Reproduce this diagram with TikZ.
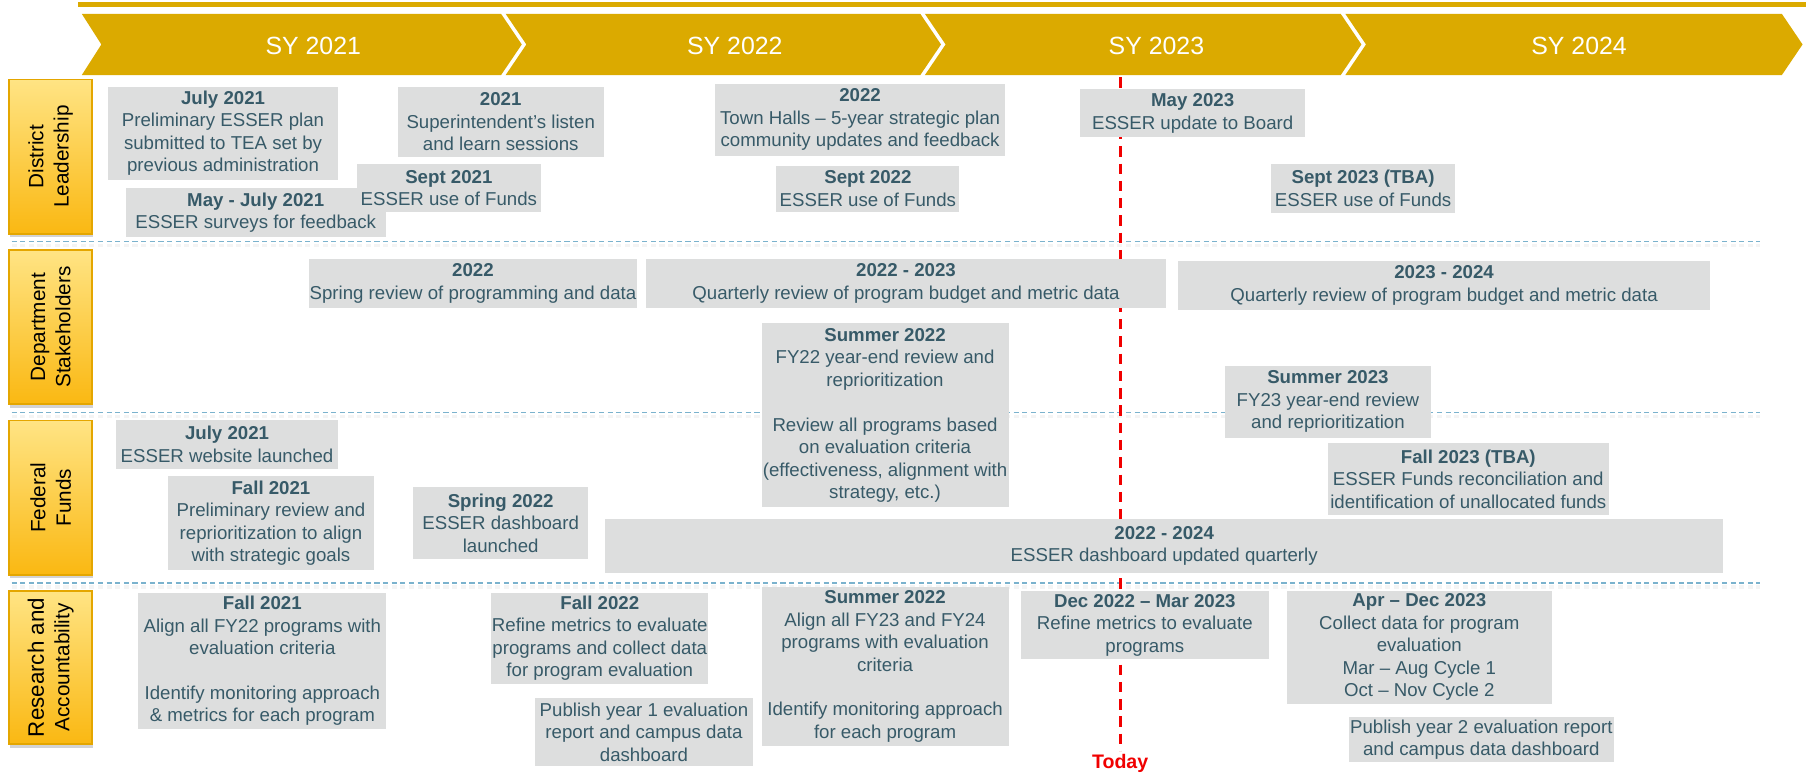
\documentclass[tikz,border=0pt]{standalone}
\usepackage{fontspec}
\setmainfont{Liberation Sans}
\usetikzlibrary{shadows}
\definecolor{gold}{RGB}{219,170,0}
\definecolor{boxgray}{RGB}{221,222,222}
\definecolor{txt}{RGB}{55,90,104}
\definecolor{sepblue}{RGB}{122,178,205}
\definecolor{sidetop}{RGB}{255,228,132}
\definecolor{sidebot}{RGB}{250,184,18}
\definecolor{sideedge}{RGB}{228,166,0}
\definecolor{todayred}{RGB}{240,0,0}
\newcommand\evbox[6]{%
  \node[evt, minimum width={#4-#2}, minimum height={#5-#3}] (#1) at ({(#2+#4)/2},{(#3+#5)/2}) {#6};}
\newcommand\sidebox[6]{%
  \node[sidebx, minimum width={#4-#2}, minimum height={#5-#3}] (#1) at ({(#2+#4)/2},{(#3+#5)/2}) {};
  \node[sidetxt] (#1t) at (#1.center) {#6};}
\begin{document}
\begin{tikzpicture}[x=1pt,y=-1pt,
  evt/.style={fill=boxgray, inner sep=0pt, align=center, text=txt,
    font=\fontsize{16.2}{19.5}\selectfont},
  sidebx/.style={draw=sideedge, line width=1.5pt, top color=sidetop, bottom color=sidebot,
    inner sep=0pt, drop shadow={opacity=0.35, shadow xshift=1pt, shadow yshift=-3pt}},
  sidetxt/.style={rotate=90, align=center, text=black, inner sep=0pt,
    font=\fontsize{18}{22}\selectfont},
  chev/.style={fill=gold},
  sylabel/.style={text=white, font=\fontsize{21.6}{24}\selectfont, inner sep=0pt},
  sep/.style={draw=sepblue, line width=1.3pt, dash pattern=on 4.5pt off 3pt},
  sepshadow/.style={draw=gray!9, line width=3pt, dash pattern=on 4.5pt off 3pt},
  todayline/.style={draw=todayred, line width=2.5pt, dash pattern=on 9pt off 6pt}]
\useasboundingbox (0,0) rectangle (1568,671);

% top bar and chevrons
\fill[gold] (68,2) rectangle (1568,6.5);
\fill[chev] (71,12) -- (435,12) -- (453,38.6) -- (435,65.2) -- (71,65.2) -- (88,38.6) -- cycle;
\fill[chev] (439,12) -- (799,12) -- (817,38.6) -- (799,65.2) -- (439,65.2) -- (457,38.6) -- cycle;
\fill[chev] (803,12) -- (1164,12) -- (1182,38.6) -- (1164,65.2) -- (803,65.2) -- (821,38.6) -- cycle;
\fill[chev] (1168,12) -- (1547,12) -- (1565,38.6) -- (1547,65.2) -- (1168,65.2) -- (1186,38.6) -- cycle;
\node[sylabel] (sy1) at (272,40) {SY 2021};
\node[sylabel] (sy2) at (638,40) {SY 2022};
\node[sylabel] (sy3) at (1004,40) {SY 2023};
\node[sylabel] (sy4) at (1371,40) {SY 2024};

% separators
\foreach \yy/\nm in {209.5/a,358/b,506/c}{
  \coordinate (sepL\nm) at (10,\yy);
  \coordinate (sepR\nm) at (1528,\yy);
  \draw[sepshadow] ([yshift=-3.5pt]sepL\nm) -- ([yshift=-3.5pt]sepR\nm);
  \draw[sep] (sepL\nm) -- (sepR\nm);
}

% today line
\coordinate (ttop) at (972.5,67);
\coordinate (tbot) at (972.5,652);
\draw[todayline] (ttop) -- (tbot);
\node[text=todayred, font=\bfseries\fontsize{17}{20}\selectfont, inner sep=0pt] (today) at (972.5,662.5) {Today};

% side labels
\sidebox{s1}{8}{69}{80}{203}{District\\Leadership}
\sidebox{s2}{8}{217}{80}{351}{Department\\Stakeholders}
\sidebox{s3}{8}{365}{80}{499}{Federal\\Funds}
\sidebox{s4}{8}{513}{80}{646}{\fontsize{19.4}{23}\selectfont Research and\\Accountability}

% row 1: District Leadership
\evbox{b1}{94}{75.2}{293.3}{156.3}{\textbf{July 2021}\\Preliminary ESSER plan\\submitted to TEA set by\\previous administration}
\evbox{b2}{345.5}{75.2}{524}{136.6}{\textbf{2021}\\Superintendent’s listen\\and learn sessions}
\evbox{b3}{109}{163.5}{335}{205.5}{\textbf{May - July 2021}\\ESSER surveys for feedback}
\evbox{b4}{310}{142.7}{469.4}{184.3}{\textbf{Sept 2021}\\ESSER use of Funds}
\evbox{b5}{621}{72.9}{872.5}{135.2}{\textbf{2022}\\Town Halls – 5-year strategic plan\\community updates and feedback}
\evbox{b6}{674}{144}{833}{183.8}{\textbf{Sept 2022}\\ESSER use of Funds}
\evbox{b7}{937.6}{77.6}{1133.4}{119.2}{\textbf{May 2023}\\ESSER update to Board}
\evbox{b8}{1103.6}{142.4}{1263.3}{184.6}{\textbf{Sept 2023 (TBA)}\\ESSER use of Funds}

% row 2: Department Stakeholders
\evbox{c1}{268.2}{225.2}{553.1}{267.1}{\textbf{2022}\\Spring review of programming and data}
\evbox{c2}{560.8}{225.2}{1012.4}{267.1}{\textbf{2022 - 2023}\\Quarterly review of program budget and metric data}
\evbox{c3}{1023.1}{226.6}{1484.4}{268.9}{\textbf{2023 - 2024}\\Quarterly review of program budget and metric data}
\evbox{c4}{661.2}{280.7}{875.6}{440.5}{\textbf{Summer 2022}\\FY22 year-end review and\\reprioritization\\[19.5pt]Review all programs based\\on evaluation criteria\\(effectiveness, alignment with\\strategy, etc.)}
\evbox{c5}{1063.4}{317.8}{1242.5}{380}{\textbf{Summer 2023}\\FY23 year-end review\\and reprioritization}

% row 3: Federal Funds
\evbox{d1}{100.8}{364.7}{293.4}{407.2}{\textbf{July 2021}\\ESSER website launched}
\evbox{d2}{145.7}{413.3}{324.8}{494.9}{\textbf{Fall 2021}\\Preliminary review and\\reprioritization to align\\with strategic goals}
\evbox{d3}{358.5}{423.1}{510.9}{485.3}{\textbf{Spring 2022}\\ESSER dashboard\\launched}
\evbox{d4}{525.5}{450.9}{1496}{497.2}{\textbf{2022 - 2024}\\ESSER dashboard updated quarterly}
\evbox{d5}{1152.8}{384.9}{1396.8}{447.1}{\textbf{Fall 2023 (TBA)}\\ESSER Funds reconciliation and\\identification of unallocated funds}

% row 4: Research and Accountability
\evbox{e1}{120.2}{514.6}{335.3}{633}{\textbf{Fall 2021}\\Align all FY22 programs with\\evaluation criteria\\[19.5pt]Identify monitoring approach\\\& metrics for each program}
\evbox{e2}{426.4}{514.6}{615.1}{593.9}{\textbf{Fall 2022}\\Refine metrics to evaluate\\programs and collect data\\for program evaluation}
\evbox{e3}{464.3}{606.3}{653.9}{665}{Publish year 1 evaluation\\report and campus data\\dashboard}
\evbox{e4}{661.2}{509.9}{875.6}{647.4}{\textbf{Summer 2022}\\Align all FY23 and FY24\\programs with evaluation\\criteria\\[19.5pt]Identify monitoring approach\\for each program}
\evbox{e5}{886.4}{513.1}{1101.5}{572.2}{\textbf{Dec 2022 – Mar 2023}\\Refine metrics to evaluate\\programs}
\evbox{e6}{1117.3}{512.8}{1347.2}{611.2}{\textbf{Apr – Dec 2023}\\Collect data for program\\evaluation\\Mar – Aug Cycle 1\\Oct – Nov Cycle 2}
\evbox{e7}{1171.3}{622.8}{1400.9}{661.9}{Publish year 2 evaluation report\\and campus data dashboard}
\end{tikzpicture}
\end{document}
